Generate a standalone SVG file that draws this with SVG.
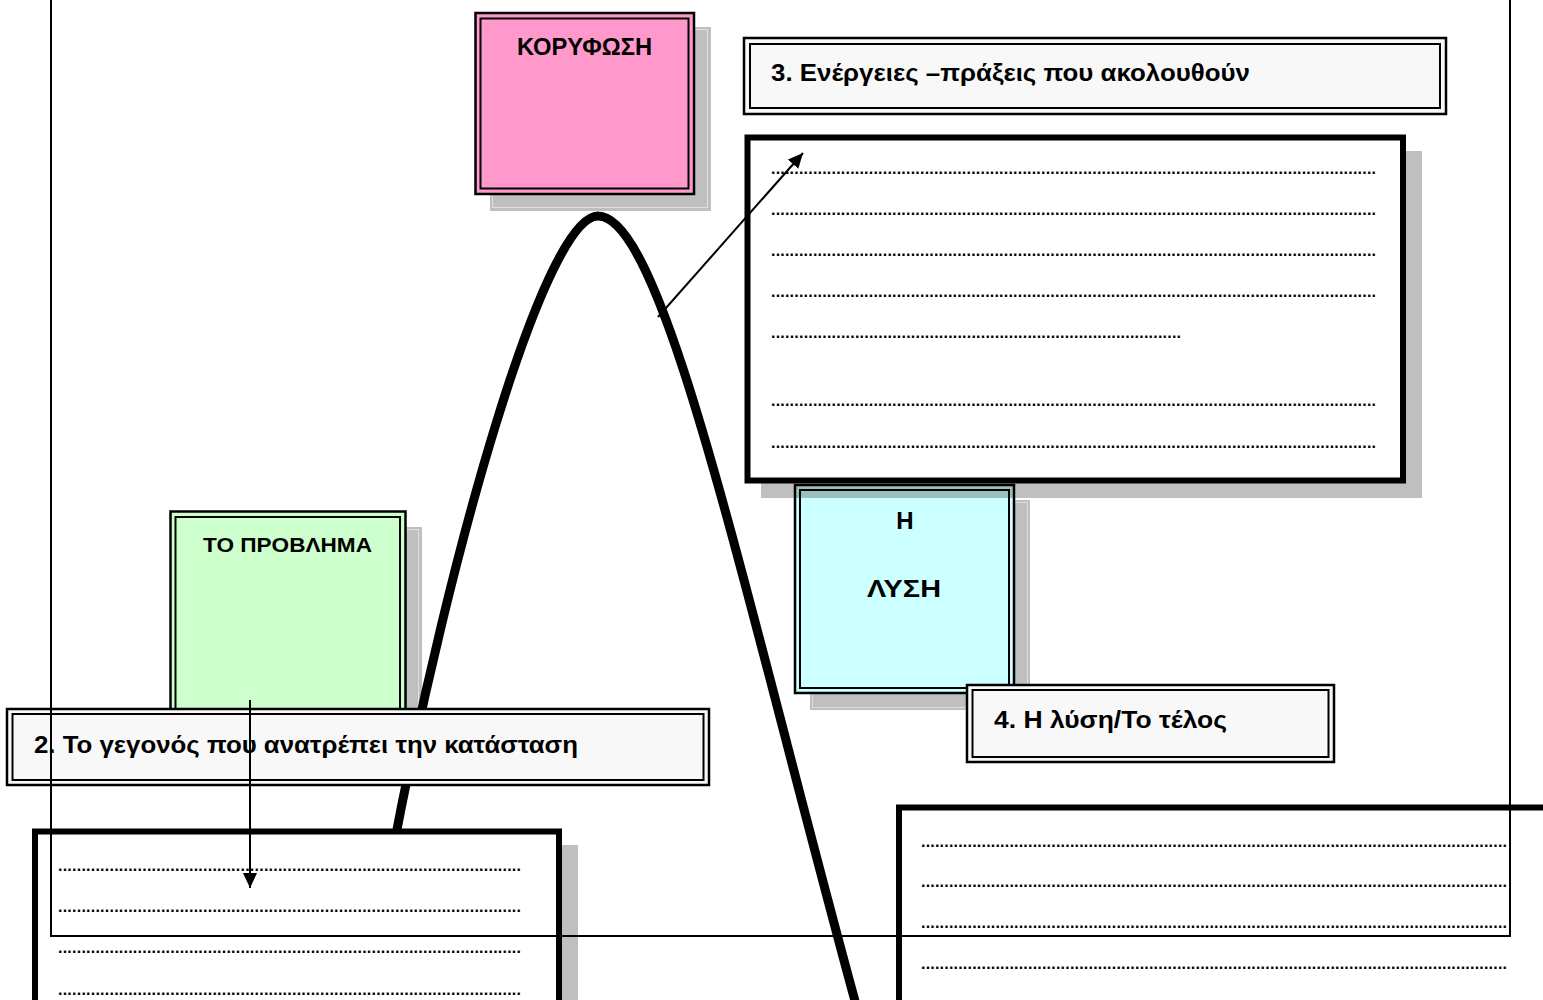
<svg xmlns="http://www.w3.org/2000/svg" width="1543" height="1000" viewBox="0 0 1543 1000">
<defs>
<style>
.shadow{fill:#000;fill-opacity:.25}
.shedge{fill:none;stroke:#fff;stroke-opacity:.5;stroke-width:1}
.outer{stroke:#000;stroke-width:2.5}
.inner{fill:none;stroke:#000;stroke-width:2}
.thick{fill:#fff;stroke:#000;stroke-width:6}
.lbl{font-family:"Liberation Sans","DejaVu Sans",sans-serif;font-weight:bold;fill:#000}
.ttl{font-family:"Liberation Sans","DejaVu Sans",sans-serif;font-weight:bold;font-size:23px;fill:#000}
.dots{font-family:"Liberation Sans","DejaVu Sans",sans-serif;font-weight:bold;font-size:16px;fill:#000}
.conn{fill:none;stroke:#000;stroke-width:2}
</style>
<marker id="arr" viewBox="0 0 15 14" refX="15" refY="7" markerWidth="15" markerHeight="14" markerUnits="userSpaceOnUse" orient="auto">
<path d="M0,0 L15,7 L0,14 z" fill="#000"/>
</marker>
</defs>
<rect width="1543" height="1000" fill="#fff"/>

<g id="node-koryfosi">
<rect class="shadow" x="490" y="27" width="221" height="184"/>
<rect class="shedge" x="492.5" y="29.5" width="215" height="178"/>
<rect class="outer" x="475.5" y="13" width="218.5" height="181" fill="#ff99cc"/>
<rect class="inner" x="480.5" y="18.5" width="208" height="170"/>
<text class="lbl" x="517" y="55" font-size="23" textLength="135" lengthAdjust="spacingAndGlyphs">ΚΟΡΥΦΩΣΗ</text>
</g>

<g id="node-provlima-shadow">
<rect class="shadow" x="185" y="527" width="237" height="200"/>
<rect class="shedge" x="187.5" y="529.5" width="231" height="195"/>
</g>

<g id="curve">
<path d="M393,850 C450,550 545,216 598,216 C665,216 745,600 858,1012" fill="none" stroke="#000" stroke-width="9"/>
</g>

<g id="node-provlima">
<rect class="outer" x="170.5" y="511.5" width="235" height="210" fill="#ccffcc"/>
<rect class="inner" x="175.5" y="517" width="224.5" height="200"/>
<text class="lbl" x="203" y="552" font-size="20" textLength="169" lengthAdjust="spacingAndGlyphs">ΤΟ ΠΡΟΒΛΗΜΑ</text>
</g>

<g id="node-title-2">
<rect class="outer" x="7" y="709" width="702" height="76" fill="#f8f8f8" stroke-width="3"/>
<rect class="inner" x="12.5" y="714" width="691" height="66"/>
<text class="ttl" x="34" y="753" textLength="544" lengthAdjust="spacingAndGlyphs">2. Το γεγονός που ανατρέπει την κατάσταση</text>
</g>

<g id="node-box-2">
<rect class="shadow" x="48" y="845" width="530" height="200"/>
<rect class="thick" x="35" y="831.5" width="524" height="200"/>
<text class="dots" x="58" y="871" textLength="463" lengthAdjust="spacing">...................................................................................................</text>
<text class="dots" x="58" y="912" textLength="463" lengthAdjust="spacing">...................................................................................................</text>
<text class="dots" x="58" y="953" textLength="463" lengthAdjust="spacing">...................................................................................................</text>
<text class="dots" x="58" y="995" textLength="463" lengthAdjust="spacing">...................................................................................................</text>
</g>

<g id="node-lysi">
<rect class="shadow" x="810" y="500" width="220" height="210"/>
<rect class="shedge" x="812.5" y="502.5" width="215" height="205"/>
<rect class="outer" x="795" y="485" width="219" height="208" fill="#ccffff"/>
<rect class="inner" x="800" y="490" width="209" height="198"/>
<text class="lbl" x="905" y="529" font-size="24" text-anchor="middle">Η</text>
<text class="lbl" x="867" y="597" font-size="24" textLength="74" lengthAdjust="spacingAndGlyphs">ΛΥΣΗ</text>
</g>

<g id="node-box-3">
<rect class="shadow" x="761" y="151" width="661" height="347"/>
<rect class="thick" x="747.5" y="137.5" width="655.5" height="343"/>
<text class="dots" x="771" y="174" textLength="605" lengthAdjust="spacing">..................................................................................................................................</text>
<text class="dots" x="771" y="215" textLength="605" lengthAdjust="spacing">..................................................................................................................................</text>
<text class="dots" x="771" y="256" textLength="605" lengthAdjust="spacing">..................................................................................................................................</text>
<text class="dots" x="771" y="297" textLength="605" lengthAdjust="spacing">..................................................................................................................................</text>
<text class="dots" x="771" y="338" textLength="410" lengthAdjust="spacing">........................................................................................</text>
<text class="dots" x="771" y="406" textLength="605" lengthAdjust="spacing">..................................................................................................................................</text>
<text class="dots" x="771" y="448" textLength="605" lengthAdjust="spacing">..................................................................................................................................</text>
</g>

<g id="node-title-3">
<rect class="outer" x="744" y="38" width="702" height="76" fill="#f8f8f8" stroke-width="3"/>
<rect class="inner" x="750" y="44" width="690" height="64"/>
<text class="ttl" x="771" y="81" textLength="479" lengthAdjust="spacingAndGlyphs">3. Ενέργειες –πράξεις που ακολουθούν</text>
</g>

<g id="node-title-4">
<rect class="outer" x="967" y="685" width="367" height="77" fill="#f8f8f8" stroke-width="3"/>
<rect class="inner" x="972.5" y="690" width="356" height="67"/>
<text class="ttl" x="994" y="728" textLength="233" lengthAdjust="spacingAndGlyphs">4. Η λύση/Το τέλος</text>
</g>

<g id="node-box-4">
<rect class="thick" x="899" y="807.5" width="700" height="260"/>
<text class="dots" x="921" y="847" textLength="586" lengthAdjust="spacing">..............................................................................................................................</text>
<text class="dots" x="921" y="887" textLength="586" lengthAdjust="spacing">..............................................................................................................................</text>
<text class="dots" x="921" y="928" textLength="586" lengthAdjust="spacing">..............................................................................................................................</text>
<text class="dots" x="921" y="969" textLength="586" lengthAdjust="spacing">..............................................................................................................................</text>
</g>

<g id="connectors">
<line class="conn" x1="658" y1="317" x2="803" y2="153" marker-end="url(#arr)"/>
<line class="conn" x1="250" y1="700" x2="250" y2="888" marker-end="url(#arr)"/>
</g>

<g id="frame">
<rect x="51" y="-20" width="1459" height="956" fill="none" stroke="#000" stroke-width="2"/>
</g>
</svg>
